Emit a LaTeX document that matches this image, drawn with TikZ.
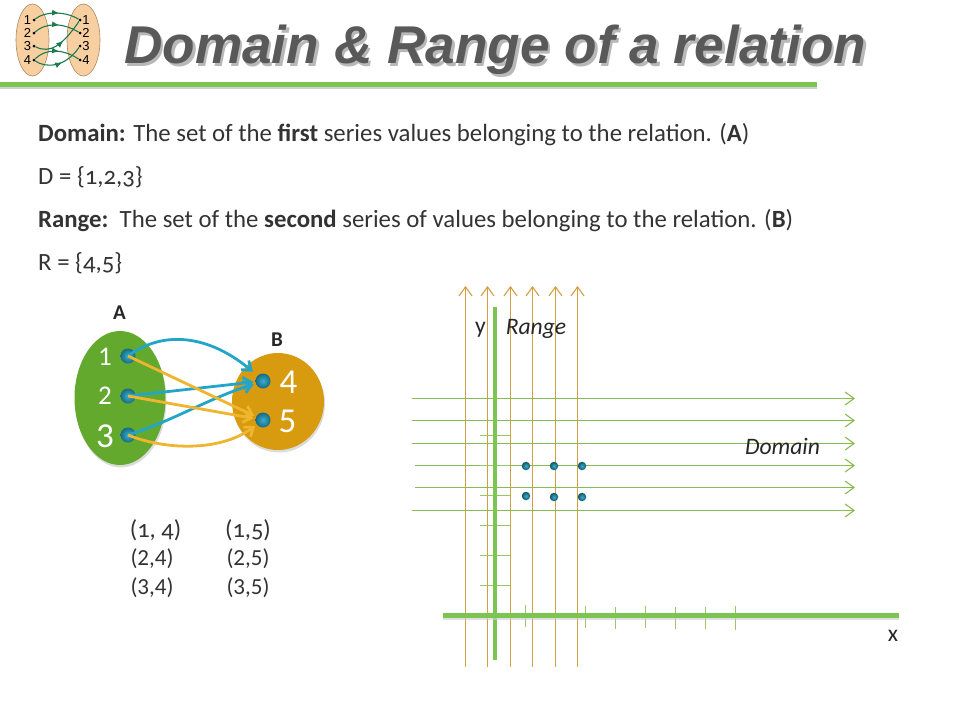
\documentclass[tikz,border=0pt]{standalone}
\usepackage{fontspec}
\setmainfont[Numbers=OldStyle]{Carlito}
\newfontfamily\titlefont{Liberation Sans}
\newfontfamily\plainnum[Numbers=Lining]{Carlito}
\usetikzlibrary{arrows.meta,decorations.markings,calc}
\definecolor{grn}{HTML}{7CC552}
\definecolor{setgreen}{HTML}{62A92E}
\definecolor{setgold}{HTML}{D89B0F}
\definecolor{arrblue}{HTML}{22A5C9}
\definecolor{arrgold}{HTML}{F0B52E}
\definecolor{vline}{HTML}{D2A040}
\definecolor{hline}{HTML}{88BC50}
\definecolor{logofill}{HTML}{F8CFA0}
\definecolor{logoline}{HTML}{A98B5F}
\definecolor{logoarrow}{HTML}{1E7A4E}
\newcommand{\titletext}{Domain \& Range of a relation}
\tikzset{
 x=1pt,y=-1pt,
 txt/.style={anchor=base west,inner sep=0pt,font=\fontsize{24.8}{28}\selectfont,text=black!80},
 pair/.style={anchor=center,inner sep=0pt,font=\fontsize{24.5}{28}\selectfont,text=black!80},
 pairl/.style={pair,font=\plainnum\fontsize{23}{28}\selectfont},
 ital/.style={anchor=center,inner sep=0pt,font=\itshape\fontsize{23.6}{28}\selectfont,text=black!85},
 smallnum/.style={anchor=center,inner sep=0pt,text=white,font=\plainnum\fontsize{27}{30}\selectfont},
 setnum/.style={anchor=center,inner sep=0pt,text=white,font=\plainnum\fontsize{35}{38}\selectfont},
 setname/.style={anchor=center,inner sep=0pt,font=\bfseries\fontsize{21}{24}\selectfont,text=black!85},
 ball/.style={circle,inner sep=0pt,minimum size=15pt,inner color=arrblue!90!white,outer color=arrblue!65!black},
 grid dot/.style={circle,inner sep=0pt,minimum size=8.5pt,inner color=arrblue!90!white,outer color=arrblue!50!black},
 blueconn/.style={draw=arrblue,line width=2.8pt,-{Straight Barb[length=8pt,width=12pt,line width=2.8pt]}},
 goldconn/.style={draw=arrgold,line width=2.8pt,-{Straight Barb[length=8pt,width=12pt,line width=2.8pt]}},
 vert/.style={draw=vline,line width=1.3pt,-{Straight Barb[length=9pt,width=13pt,line width=1.1pt]}},
 horiz/.style={draw=hline,line width=1.3pt,-{Straight Barb[length=9pt,width=13pt,line width=1.1pt]}},
 axis/.style={draw=grn,line width=4.8pt},
 tick/.style={draw=hline!85,line width=.9pt},
 logoset/.style={draw=logoline,fill=logofill,line width=.6pt},
 lnum/.style={anchor=center,inner sep=0pt,font=\titlefont\fontsize{13}{13}\selectfont,text=black},
 ldot/.style={circle,fill=black,inner sep=0pt,minimum size=3pt},
 lconn/.style={draw=logoarrow,line width=1.1pt,postaction={decorate},decoration={markings,mark=at position .55 with {\arrow{Latex[length=7pt,width=6pt]}}}},
 ttl/.style={anchor=west,inner sep=0pt,font=\titlefont\bfseries\itshape\fontsize{53.2}{56}\selectfont},
}
\begin{document}
\begin{tikzpicture}
\useasboundingbox (0,0) rectangle (960,720);
% logo
\draw[logoset] (32.5,40) ellipse [x radius=16.5,y radius=36];
\draw[logoset] (83.5,40) ellipse [x radius=16.5,y radius=36];
\foreach \n/\y in {1/20,2/33,3/46,4/60}{
 \node[lnum] at (27.5,\y) {\n};
 \node[lnum] at (86,\y) {\n};
 \node[ldot] (l\n) at (34,\y) {};
 \node[ldot] (r\n) at (80,\y) {};
}
\draw[lconn] (l1) .. controls (45,11) and (65,11) .. (r1);
\draw[lconn] (l2) .. controls (45,23) and (62,22) .. (r2);
\draw[lconn] (l3) .. controls (50,54) and (62,46) .. (r1);
\draw[lconn] (l4) .. controls (45,49) and (62,48) .. (r4);
\draw[lconn] (l4) .. controls (45,68) and (65,68) .. (r3);
% title: one node, its soft shadow set in the same box
\node[ttl,text=black!65] (title) at (124,51) {\rlap{\kern2.5pt\raisebox{-2.5pt}{\textcolor{black!28}{\titletext}}}\titletext};
\coordinate (ruleL) at (0,84.5); \coordinate (ruleR) at (817,84.5);
\draw[draw=black!18,line width=4.8pt] ($(ruleL)+(0,2)$) -- ($(ruleR)+(0,2)$);
\draw[axis] (ruleL) -- (ruleR);
% body text
\node[txt] (t1) at (38,141) {\textbf{Domain:} The set of the \textbf{first} series values belonging to the relation. (\textbf{A})};
\node[txt] (t2) at (38,184.5) {D = \{1,2,3\}};
\node[txt] (t3) at (38,227.5) {\textbf{Range:}\ \ The set of the \textbf{second} series of values belonging to the relation. (\textbf{B})};
\node[txt] (t4) at (38,270.5) {R = \{4,5\}};
% sets
\path[fill=black!14] (121,400.5) ellipse [x radius=45.5,y radius=67];
\path[fill=black!14] (279,404) ellipse [x radius=46,y radius=48.5];
\path[fill=setgreen] (120,398) ellipse [x radius=45.5,y radius=67];
\path[fill=setgold] (278,401.5) ellipse [x radius=46,y radius=48.5];
\node[setname] (A) at (119.5,313) {A};
\node[setname] (B) at (277,340) {B};
\node[smallnum] at (105,357) {1};
\node[smallnum] at (105,396) {2};
\node[setnum] at (105,436) {3};
\node[setnum] at (288.5,382) {4};
\node[setnum] at (287.5,421) {5};
\node[ball] (a1) at (128,356) {};
\node[ball] (a2) at (128,396) {};
\node[ball] (a3) at (128,435) {};
\node[ball] (b4) at (263,381) {};
\node[ball] (b5) at (263,420) {};
\draw[blueconn,shorten >=6pt] (a1.center) .. controls (160,332) and (205,332) .. (b4.north west);
\draw[blueconn,shorten >=2pt] (a2.center) -- (b4);
\draw[blueconn,shorten >=2pt] (a3.center) .. controls (175,420) and (205,400) .. (b4);
\draw[goldconn,shorten >=2pt] (a1.center) -- (b5);
\draw[goldconn,shorten >=2pt] (a2.center) -- (b5);
\draw[goldconn,shorten >=2pt] (a3.center) .. controls (165,450) and (220,452) .. (b5);
% pairs
\node[pair] at (155.5,530) {(1, 4)};
\node[pair] at (248,530) {(1,5)};
\node[pairl] at (152,559) {(2,4)};
\node[pairl] at (248,559) {(2,5)};
\node[pairl] at (152,588) {(3,4)};
\node[pairl] at (248,588) {(3,5)};
% grid lines
\foreach \n/\x in {1/465.5,2/487.5,3/510.5,4/532.5,5/555.5,6/577.5}{
 \coordinate (vs\n) at (\x,667); \coordinate (ve\n) at (\x,286);
 \draw[vert] (vs\n) -- (ve\n);
}
\foreach \n/\s/\y in {1/412/398.5,2/412/420.5,3/411.5/443.5,4/414.5/465.5,5/414.5/487.5,6/412/510.5}{
 \coordinate (hs\n) at (\s,\y); \coordinate (he\n) at (855,\y);
 \draw[horiz] (hs\n) -- (he\n);
}
% axes
\foreach \y in {435,465,495,525,555,585}{
 \coordinate (yl) at (480,\y); \coordinate (yr) at (510,\y);
 \draw[tick] (yl) -- (yr);
}
\foreach \x/\a/\b in {525/605/627,585/606/628,615/607/629,645/606/628,675/607/629,705/607/629,735/606/630}{
 \coordinate (xt) at (\x,\a); \coordinate (xb) at (\x,\b);
 \draw[tick] (xt) -- (xb);
}
\coordinate (yaT) at (495,307); \coordinate (yaB) at (495,660);
\coordinate (xaL) at (443,615.5); \coordinate (xaR) at (899,615.5);
\draw[axis] (yaT) -- (yaB);
\draw[draw=black!20,line width=4.8pt,opacity=.6] ($(xaL)+(0,2)$) -- ($(xaR)+(0,2)$);
\draw[axis] (xaL) -- (xaR);
\foreach \n/\x/\y in {1/526/466,2/554/466,3/582/466,4/526/496,5/554/497,6/582/497}{
 \node[grid dot] (g\n) at (\x,\y) {};
}
\node[ital,font=\fontsize{23.6}{28}\selectfont] (ylab) at (480.5,330) {y};
\node[ital] (rlab) at (536,328.5) {Range};
\node[ital] (dlab) at (782.5,446.5) {Domain};
\node[ital,font=\fontsize{23.6}{28}\selectfont] (xlab) at (893,636) {x};
\end{tikzpicture}
\end{document}
